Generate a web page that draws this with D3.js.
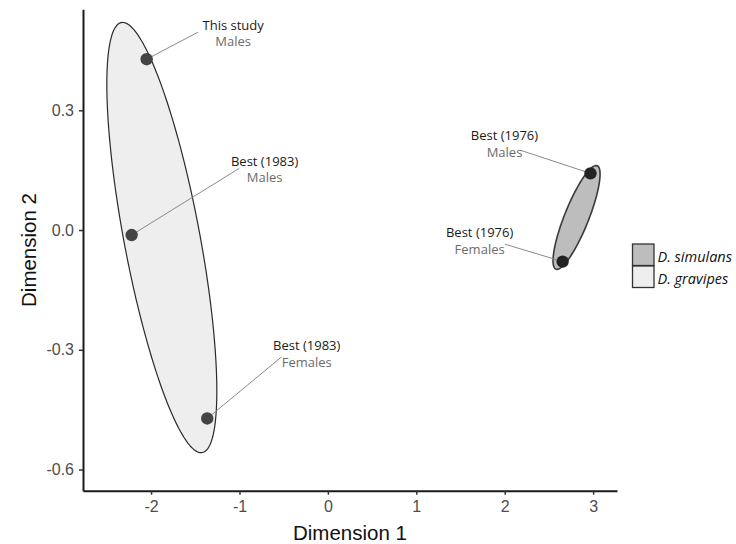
<!DOCTYPE html>
<html>
<head>
<meta charset="utf-8">
<script src="https://cdn.jsdelivr.net/npm/d3@7"></script>
<style>
    body { margin: 0; background: #fff; }
    .tick-text { font-family: 'Liberation Sans', Arial, sans-serif; font-size: 16px; fill: #4d4d4d; }
    .axis-text { font-family: 'Liberation Sans', Arial, sans-serif; font-size: 20.5px; fill: #111; }
    .lab-top { font-family: 'Open Sans', sans-serif; font-size: 13px; fill: #1a1a1a; }
    .lab-sub { font-family: 'Open Sans', sans-serif; font-size: 13px; fill: #6b6b6b; }
    .legend-text { font-family: 'Open Sans', sans-serif; font-size: 14.5px; font-style: italic; fill: #111; }
</style>
</head>
<body>
<div id="chart"></div>
<script>
// data
const studies = ['This study', 'Best (1983)', 'Best (1983)', 'Best (1976)', 'Best (1976)'];
const sexes = ['Males', 'Males', 'Females', 'Males', 'Females'];
const species = ['D. gravipes', 'D. gravipes', 'D. gravipes', 'D. simulans', 'D. simulans'];
const dim1 = [-2.05, -2.22, -1.365, 2.97, 2.655];
const dim2 = [0.428, -0.0125, -0.472, 0.142, -0.079];

const speciesNames = ['D. simulans', 'D. gravipes'];
// ellipse shape per species (xx, xy, yy), in data units
const ellipseShape = [[0.0707, 0.0288, 0.0169], [0.387, -0.239, 0.2905]];

const xTicks = [-2, -1, 0, 1, 2, 3];
const xTickLabels = ['-2', '-1', '0', '1', '2', '3'];
const yTicks = [-0.6, -0.3, 0, 0.3];
const yTickLabels = ['-0.6', '-0.3', '0.0', '0.3'];

// label placement, pixels from each point: text (dx, dy), leader end (lx, ly)
const labelPos = [
    [86.5, -29.3, 51.3, -27],
    [133, -69.3, 107.6, -66.7],
    [99.5, -68.3, 74.4, -61.6],
    [-86, -33, -70.7, -23.3],
    [-83, -24.4, -57.7, -17.4]
];

const width = 736;
const height = 544;
const margin = { left: 83, right: 617, top: 9.3, bottom: 490.7 };

const fills = { 'D. simulans': '#bdbdbd', 'D. gravipes': '#eeeeee' };
const dotFill = { 'D. simulans': '#222', 'D. gravipes': '#444' };

let svg = d3.select('#chart')
    .append('svg')
    .attr('width', width)
    .attr('height', height);

let xScale = d3.scaleLinear()
    .domain([-2.77, 3.27])
    .range([margin.left, margin.right]);

let yScale = d3.scaleLinear()
    .domain([-0.653, 0.553])
    .range([margin.bottom, margin.top]);

// ellipses, centred on the group mean
let ellipsePath = (name, shape) => {
    let idx = d3.range(dim1.length).filter(i => species[i] === name);
    let cx = d3.mean(idx, i => dim1[i]);
    let cy = d3.mean(idx, i => dim2[i]);
    let l11 = Math.sqrt(shape[0]);
    let l21 = shape[1] / l11;
    let l22 = Math.sqrt(shape[2] - l21 * l21);
    let pts = d3.range(0, 2 * Math.PI, Math.PI / 90).map(t => [
        cx + l11 * Math.cos(t),
        cy + l21 * Math.cos(t) + l22 * Math.sin(t)
    ]);
    return d3.line()
        .x(d => xScale(d[0]))
        .y(d => yScale(d[1]))
        .curve(d3.curveLinearClosed)(pts);
};

svg.selectAll('path.ellipse')
    .data(speciesNames)
    .enter()
    .append('path')
    .attr('class', 'ellipse')
    .attr('d', (d, i) => ellipsePath(d, ellipseShape[i]))
    .attr('fill', d => fills[d])
    .attr('stroke', (d, i) => i === 0 ? '#3a3a3a' : '#2a2a2a')
    .attr('stroke-width', (d, i) => i === 0 ? 1.6 : 1.2);

// leader lines
svg.selectAll('line.leader')
    .data(dim1)
    .enter()
    .append('line')
    .attr('class', 'leader')
    .attr('x1', (d, i) => xScale(d))
    .attr('y1', (d, i) => yScale(dim2[i]))
    .attr('x2', (d, i) => xScale(d) + labelPos[i][2])
    .attr('y2', (d, i) => yScale(dim2[i]) + labelPos[i][3])
    .attr('stroke', '#8a8a8a')
    .attr('stroke-width', 1);

svg.selectAll('circle')
    .data(dim1)
    .enter()
    .append('circle')
    .attr('cx', d => xScale(d))
    .attr('cy', (d, i) => yScale(dim2[i]))
    .attr('r', 6.2)
    .attr('fill', (d, i) => dotFill[species[i]]);

let labels = svg.selectAll('g.label')
    .data(dim1)
    .enter()
    .append('g')
    .attr('class', 'label')
    .attr('transform', (d, i) => 'translate(' + (xScale(d) + labelPos[i][0]) + ',' + (yScale(dim2[i]) + labelPos[i][1]) + ')');

labels.append('text')
    .attr('class', 'lab-top')
    .attr('text-anchor', 'middle')
    .text((d, i) => studies[i]);

labels.append('text')
    .attr('class', 'lab-sub')
    .attr('text-anchor', 'middle')
    .attr('y', 16.5)
    .text((d, i) => sexes[i]);

// axes
let xAxis = svg.append('g')
    .attr('transform', 'translate(0,' + margin.bottom + ')')
    .call(d3.axisBottom(xScale).tickValues(xTicks).tickFormat((d, i) => xTickLabels[i]).tickSize(4).tickPadding(6).tickSizeOuter(0));

let yAxis = svg.append('g')
    .attr('transform', 'translate(' + margin.left + ',0)')
    .call(d3.axisLeft(yScale).tickValues(yTicks).tickFormat((d, i) => yTickLabels[i]).tickSize(4).tickPadding(5).tickSizeOuter(0));

[xAxis, yAxis].forEach(ax => {
    ax.select('.domain').attr('stroke', '#1a1a1a').attr('stroke-width', 2);
    ax.selectAll('.tick line').attr('stroke', '#333').attr('stroke-width', 1.5);
    ax.selectAll('.tick text').attr('class', 'tick-text');
    ax.attr('font-family', null).attr('font-size', null);
    ax.selectAll('.tick text').attr('fill', null);
});

svg.append('text')
    .attr('class', 'axis-text')
    .attr('x', (margin.left + margin.right) / 2)
    .attr('y', 540)
    .attr('text-anchor', 'middle')
    .text('Dimension 1');

svg.append('text')
    .attr('class', 'axis-text')
    .attr('transform', 'translate(36,' + (margin.top + margin.bottom) / 2 + ') rotate(-90)')
    .attr('text-anchor', 'middle')
    .text('Dimension 2');

// legend
let legend = svg.selectAll('g.legend')
    .data(speciesNames)
    .enter()
    .append('g')
    .attr('class', 'legend')
    .attr('transform', (d, i) => 'translate(632.5,' + (244 + i * 22) + ')');

legend.append('rect')
    .attr('width', 21.5)
    .attr('height', 21.5)
    .attr('fill', d => fills[d])
    .attr('stroke', '#333')
    .attr('stroke-width', 1.3);

legend.append('text')
    .attr('class', 'legend-text')
    .attr('x', 25)
    .attr('y', 17.5)
    .text(d => d);
</script>
</body>
</html>
